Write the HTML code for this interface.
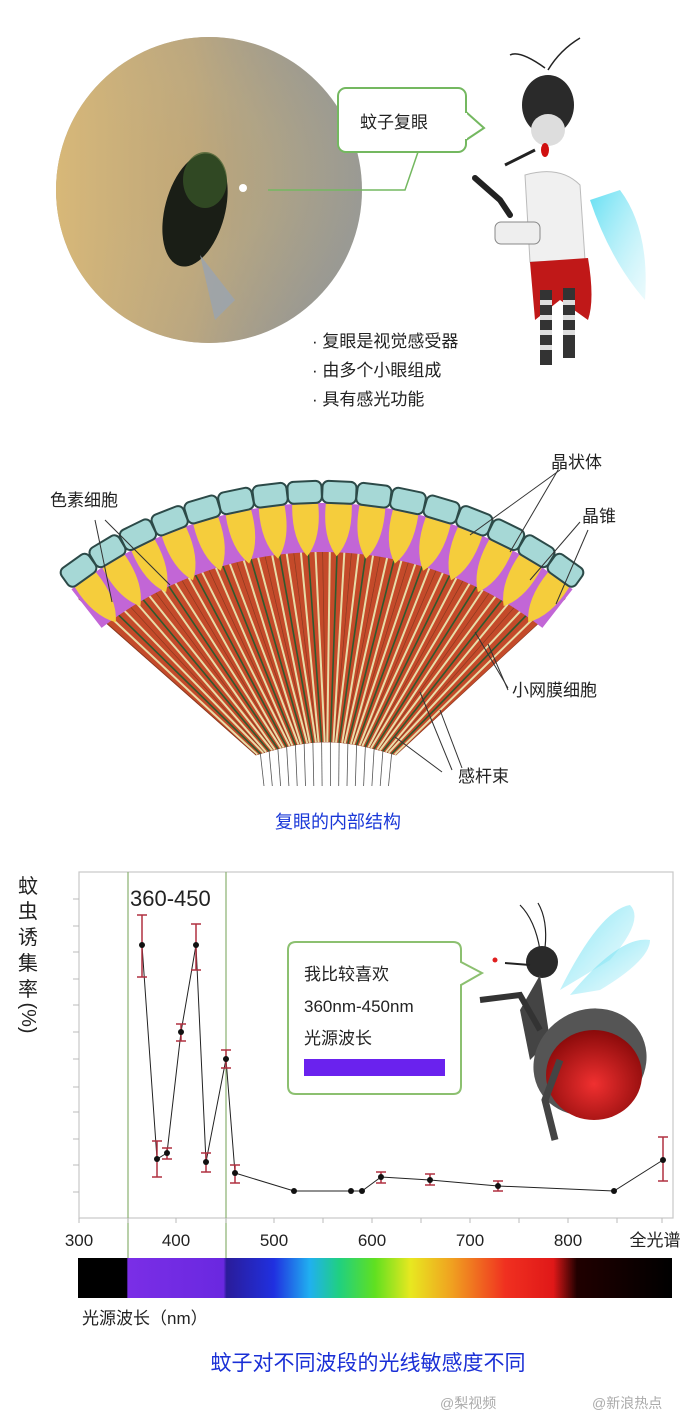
<!DOCTYPE html>
<html><head><meta charset="utf-8"><style>
html,body{margin:0;padding:0;background:#fff;}
body{width:690px;height:1420px;overflow:hidden;position:relative;}
svg{position:absolute;left:0;top:0;}
text{font-family:"Liberation Sans","Noto Sans CJK SC",sans-serif;}
</style></head><body>
<svg id="s" width="690" height="1420" viewBox="0 0 690 1420" xmlns="http://www.w3.org/2000/svg">
<defs>
<radialGradient id="ph" cx="0.4" cy="0.45" r="0.6">
<stop offset="0" stop-color="#b8a274"/><stop offset="0.5" stop-color="#b0a688"/><stop offset="1" stop-color="#9a9a94"/>
</radialGradient>
<linearGradient id="phl" x1="0" y1="0" x2="1" y2="0">
<stop offset="0" stop-color="#d8b878"/><stop offset="0.45" stop-color="#c4aa7a" stop-opacity="0.7"/><stop offset="1" stop-color="#8e9090" stop-opacity="0"/>
</linearGradient>
<linearGradient id="spec" x1="78" y1="0" x2="672" y2="0" gradientUnits="userSpaceOnUse">
<stop offset="0" stop-color="#000"/><stop offset="0.082" stop-color="#000"/>
<stop offset="0.084" stop-color="#7a2ee6"/><stop offset="0.245" stop-color="#6a28e0"/>
<stop offset="0.25" stop-color="#2a1c9a"/><stop offset="0.33" stop-color="#2030e0"/>
<stop offset="0.39" stop-color="#20b0f0"/><stop offset="0.44" stop-color="#20d080"/>
<stop offset="0.50" stop-color="#60e020"/><stop offset="0.56" stop-color="#e8e820"/>
<stop offset="0.63" stop-color="#f0a020"/><stop offset="0.72" stop-color="#f03020"/>
<stop offset="0.80" stop-color="#e01818"/><stop offset="0.84" stop-color="#200000"/><stop offset="1" stop-color="#000"/>
</linearGradient>
<linearGradient id="wing" x1="0" y1="0" x2="1" y2="1"><stop offset="0" stop-color="#40d8f0"/><stop offset="1" stop-color="#c0f0f8" stop-opacity="0.4"/></linearGradient>
<radialGradient id="belly" cx="0.5" cy="0.6" r="0.6"><stop offset="0" stop-color="#f03030"/><stop offset="1" stop-color="#8a0a0a"/></radialGradient>
</defs>

<circle cx="209" cy="190" r="153" fill="url(#ph)"/>
<circle cx="209" cy="190" r="153" fill="url(#phl)"/>
<ellipse cx="195" cy="210" rx="30" ry="58" fill="#1a1e16" transform="rotate(15 195 210)"/>
<ellipse cx="205" cy="180" rx="22" ry="28" fill="#3a5a2a" opacity="0.7"/>
<path d="M200 255 L215 320 L235 300 Z" fill="#9aa4b0" opacity="0.8"/>
<circle cx="243" cy="188" r="4" fill="#fff"/>
<path d="M268 190 L405 190 L418 152" fill="none" stroke="#74b860" stroke-width="1.5"/>
<rect x="338" y="88" width="128" height="64" rx="8" fill="#fff" stroke="#74b860" stroke-width="2"/>
<path d="M466 112 L484 128 L466 140" fill="#fff" stroke="#74b860" stroke-width="2"/>
<rect x="463" y="113" width="4" height="26" fill="#fff"/>
<text x="360" y="128" font-size="17" fill="#222">蚊子复眼</text>
<path d="M620 190 Q650 230 645 300 Q610 260 590 200 Z" fill="url(#wing)" opacity="0.8"/>
<path d="M548 70 Q560 50 580 38 M545 68 Q520 50 510 55" stroke="#222" stroke-width="1.5" fill="none"/>
<ellipse cx="548" cy="105" rx="26" ry="30" fill="#2a2a2a"/>
<ellipse cx="548" cy="130" rx="17" ry="16" fill="#ddd"/>
<ellipse cx="545" cy="150" rx="4" ry="7" fill="#d01010"/>
<path d="M535 150 L505 165" stroke="#222" stroke-width="3"/>
<path d="M525 175 Q560 165 580 185 L585 260 L530 262 Z" fill="#f0f0f0" stroke="#bbb"/>
<rect x="495" y="222" width="45" height="22" rx="6" fill="#eee" stroke="#888"/>
<path d="M530 262 L588 258 Q595 300 588 320 L560 300 L535 320 Z" fill="#c01818"/>
<rect x="540" y="290" width="12" height="75" fill="#333"/><rect x="563" y="288" width="12" height="70" fill="#333"/>
<g fill="#ddd"><rect x="540" y="300" width="12" height="5"/><rect x="540" y="315" width="12" height="5"/><rect x="540" y="330" width="12" height="5"/><rect x="540" y="345" width="12" height="5"/><rect x="563" y="300" width="12" height="5"/><rect x="563" y="315" width="12" height="5"/><rect x="563" y="330" width="12" height="5"/></g>
<path d="M475 178 L500 200 L510 215" stroke="#222" stroke-width="6" fill="none" stroke-linecap="round"/>
<g font-size="17" fill="#222">
<text x="312" y="347">· 复眼是视觉感受器</text>
<text x="312" y="376">· 由多个小眼组成</text>
<text x="312" y="405">· 具有感光功能</text>
</g>

<g id="fan"></g>
<g font-size="17" fill="#222">
<text x="50" y="506">色素细胞</text>
<text x="551" y="468">晶状体</text>
<text x="582" y="522">晶锥</text>
<text x="512" y="696">小网膜细胞</text>
<text x="458" y="782">感杆束</text>
</g>
<g stroke="#333" stroke-width="1" fill="none">
<path d="M95 520 L112 602"/><path d="M105 520 L170 585"/>
<path d="M560 470 L470 535"/><path d="M558 470 L510 552"/>
<path d="M580 522 L530 580"/><path d="M588 530 L556 604"/>
<path d="M508 688 L475 632"/><path d="M508 690 L488 644"/>
<path d="M462 768 L440 710"/><path d="M452 770 L420 692"/><path d="M442 772 L395 737"/>
</g>
<text x="338" y="828" font-size="18" fill="#1a38d8" text-anchor="middle">复眼的内部结构</text>

<rect x="79" y="872" width="594" height="346" fill="none" stroke="#c8c8c8" stroke-width="1.2"/>
<line x1="128" y1="872" x2="128" y2="1258" stroke="#8ab070" stroke-width="1.2"/>
<line x1="226" y1="872" x2="226" y2="1258" stroke="#8ab070" stroke-width="1.2"/>
<g id="ticks" stroke="#bbb"></g>
<text x="130" y="906" font-size="22" fill="#222">360-450</text>
<g font-size="20" fill="#222" text-anchor="middle">
<text x="28" y="893">蚊</text><text x="28" y="918">虫</text><text x="28" y="944">诱</text><text x="28" y="970">集</text><text x="28" y="996">率</text>
<text x="28" y="1024" transform="rotate(90 28 1018)">(%)</text>
</g>
<g font-size="17" fill="#222" text-anchor="middle">
<text x="79" y="1246">300</text><text x="176" y="1246">400</text><text x="274" y="1246">500</text><text x="372" y="1246">600</text><text x="470" y="1246">700</text><text x="568" y="1246">800</text><text x="655" y="1246">全光谱</text>
</g>
<g id="data"></g>
<path d="M296 942 L453 942 Q461 942 461 950 L461 962 L482 973 L461 985 L461 1086 Q461 1094 453 1094 L296 1094 Q288 1094 288 1086 L288 950 Q288 942 296 942 Z" fill="#fff" stroke="#8cc070" stroke-width="2"/>
<g font-size="17" fill="#222"><text x="304" y="980">我比较喜欢</text><text x="304" y="1012">360nm-450nm</text><text x="304" y="1044">光源波长</text></g>
<rect x="304" y="1059" width="141" height="17" fill="#6a22ee"/>
<path d="M560 990 Q600 910 630 905 Q645 920 610 960 Z" fill="url(#wing)" opacity="0.7"/>
<path d="M570 995 Q620 935 650 940 Q650 960 600 990 Z" fill="url(#wing)" opacity="0.7"/>
<path d="M540 950 Q535 920 520 905 M545 948 Q548 920 538 903" stroke="#222" stroke-width="1.2" fill="none"/>
<circle cx="542" cy="962" r="16" fill="#2a2a2a"/>
<path d="M530 965 L505 963" stroke="#222" stroke-width="2"/>
<circle cx="495" cy="960" r="2.5" fill="#e02020"/>
<path d="M540 975 L550 1040 L530 1060 L520 1010 Z" fill="#444"/>
<path d="M480 1000 L520 995 L540 1030" stroke="#333" stroke-width="6" fill="none"/>
<ellipse cx="590" cy="1062" rx="58" ry="52" fill="#555" transform="rotate(-30 590 1062)"/>
<ellipse cx="594" cy="1075" rx="48" ry="45" fill="url(#belly)"/>
<path d="M560 1060 L545 1100 L555 1140" stroke="#444" stroke-width="7" fill="none"/>
<rect x="78" y="1258" width="594" height="40" fill="url(#spec)"/>
<text x="82" y="1324" font-size="17" fill="#222">光源波长（nm）</text>
<text x="368" y="1370" font-size="21" fill="#1a2fd6" text-anchor="middle">蚊子对不同波段的光线敏感度不同</text>
<text x="440" y="1408" font-size="14" fill="#aaa">@梨视频</text>
<text x="592" y="1408" font-size="14" fill="#aaa">@新浪热点</text>
</svg>
<script>
var NS="http://www.w3.org/2000/svg";
function el(p,t,a){var e=document.createElementNS(NS,t);for(var k in a)e.setAttribute(k,a[k]);p.appendChild(e);return e;}
var fan=document.getElementById("fan");
var cx=322,cy=910,n=16,a0=-38,a1=38;
function pt(r,deg){var t=deg*Math.PI/180;return [cx+r*Math.sin(t),cy-r*Math.cos(t)];}
function bot(k){var x=256+k*(396-256)/n;var y=755-13*Math.sin(Math.PI*k/n);return [x,y];}
var step=(a1-a0)/n;
for(var i=0;i<n;i++){
 var A=pt(395,a0+i*step),B=pt(395,a0+(i+1)*step),C=bot(i+1),D=bot(i);
 el(fan,"polygon",{points:[A,B,C,D].map(function(p){return p.join(",")}).join(" "),fill:"#c44a2a",stroke:"#8a3a20","stroke-width":"0.6"});
 var L=pt(395,a0+i*step+1.2),Lb=bot(i+0.15),R=pt(395,a0+(i+1)*step-1.2),Rb=bot(i+0.85);
 el(fan,"line",{x1:L[0],y1:L[1],x2:Lb[0],y2:Lb[1],stroke:"#e8dca8","stroke-width":"2"});
 el(fan,"line",{x1:R[0],y1:R[1],x2:Rb[0],y2:Rb[1],stroke:"#e8dca8","stroke-width":"2"});
 var M=pt(395,a0+(i+0.5)*step),Mb=bot(i+0.5);
 el(fan,"line",{x1:M[0],y1:M[1],x2:Mb[0],y2:Mb[1],stroke:"#2e5a2e","stroke-width":"1.6"});
 el(fan,"line",{x1:Mb[0],y1:Mb[1],x2:264+i*8.3,y2:786,stroke:"#555","stroke-width":"0.8"});
}
el(fan,"line",{x1:pt(395,a0)[0],y1:pt(395,a0)[1],x2:256,y2:755,stroke:"#8a3a20","stroke-width":"1"});
var pts=[];for(var d=a0;d<=a1+0.01;d+=1)pts.push(pt(407,d));
for(var d=a1;d>=a0-0.01;d-=1)pts.push(pt(358,d));
el(fan,"polygon",{points:pts.map(function(p){return p.join(",")}).join(" "),fill:"#c266d6"});
for(var i=0;i<n;i++){
 var ang=a0+(i+0.5)*step,P=pt(380,ang);
 el(fan,"path",{d:"M-13,-26 L13,-26 Q15,8 0,26 Q-15,8 -13,-26 Z",fill:"#f5cd3c",transform:"translate("+P[0]+","+P[1]+") rotate("+ang+")"});
}
for(var i=0;i<n;i++){
 var ang=a0+(i+0.5)*step,P=pt(418,ang);
 el(fan,"rect",{x:-17,y:-11,width:34,height:22,rx:6,fill:"#a6d8d6",stroke:"#2c4a48","stroke-width":"2",transform:"translate("+P[0]+","+P[1]+") rotate("+ang+")"});
}
var tk=document.getElementById("ticks");
[899,926,952,979,1005,1032,1059,1087,1112,1139,1165,1192].forEach(function(y){el(tk,"line",{x1:73,y1:y,x2:79,y2:y});});
[79,128,176,226,274,323,372,421,470,519,568,617,662].forEach(function(x){el(tk,"line",{x1:x,y1:1218,x2:x,y2:1223});});
var D=[[142,945,915,977],[157,1159,1141,1177],[167,1153,1148,1159],[181,1032,1024,1041],[196,945,924,970],[206,1162,1153,1172],[226,1059,1050,1068],[235,1173,1165,1183],[294,1191],[351,1191],[362,1191],[381,1177,1172,1183],[430,1180,1174,1185],[498,1186,1181,1191],[614,1191],[663,1160,1137,1181]];
var g=document.getElementById("data");
el(g,"polyline",{points:D.map(function(d){return d[0]+","+d[1]}).join(" "),fill:"none",stroke:"#222","stroke-width":"1"});
D.forEach(function(d){
 if(d.length>2){el(g,"line",{x1:d[0],y1:d[2],x2:d[0],y2:d[3],stroke:"#b03040","stroke-width":"1.5"});
 el(g,"line",{x1:d[0]-5,y1:d[2],x2:d[0]+5,y2:d[2],stroke:"#b03040","stroke-width":"1.5"});
 el(g,"line",{x1:d[0]-5,y1:d[3],x2:d[0]+5,y2:d[3],stroke:"#b03040","stroke-width":"1.5"});}
 el(g,"circle",{cx:d[0],cy:d[1],r:3,fill:"#111"});
});
</script>
</body></html>
